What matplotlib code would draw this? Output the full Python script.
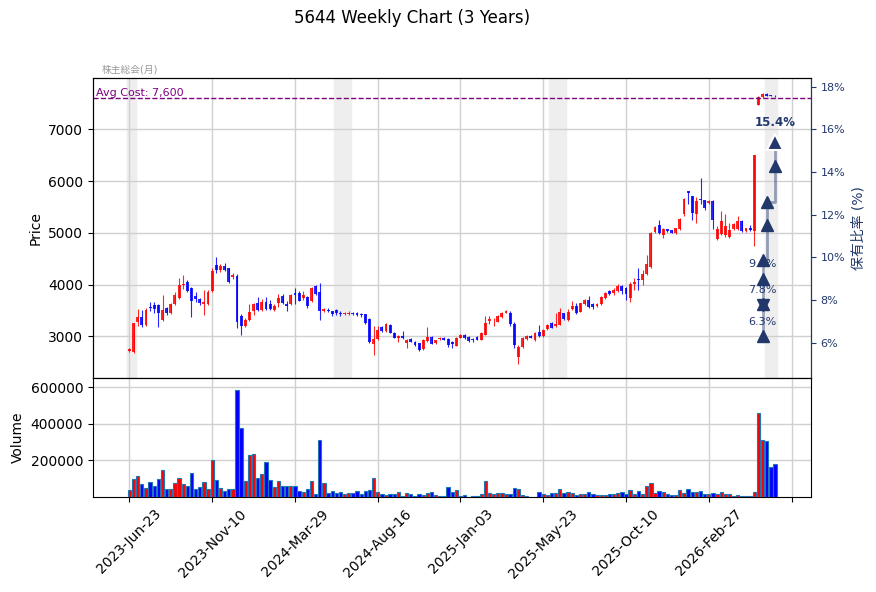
import matplotlib
matplotlib.use('Agg')
import matplotlib.pyplot as plt
import matplotlib.transforms as mtransforms
import numpy as np
import pandas as pd

plt.rcParams['font.family'] = ['DejaVu Sans', 'Noto Sans CJK JP']

# weekly data
dates = pd.date_range('2023-06-23', periods=157, freq='7D')

opens = [2720, 2700, 3270, 3380, 3215, 3575, 3600, 3595, 3320, 3555,
         3450, 3627, 3745, 3985, 4040, 3935, 3770, 3725, 3615, 3615,
         3875, 4380, 4280, 4360, 4310, 4140, 4170, 3385, 3190, 3320,
         3490, 3645, 3503, 3665, 3620, 3503, 3645, 3775, 3626, 3620,
         3840, 3845, 3742, 3760, 3684, 3968, 3858, 3490, 3516, 3484,
         3503, 3452, 3432, 3439, 3452, 3452, 3439, 3426, 3342, 2845,
         2942, 3187, 3110, 3219, 3071, 2974, 3013, 2877, 2948, 2897,
         2865, 2748, 2910, 2987, 2871, 2942, 2974, 2948, 2897, 2819,
         2974, 3026, 2987, 2955, 2994, 2935, 3032, 3297, 3310, 3284,
         3374, 3458, 3458, 3245, 2596, 2788, 2942, 3006, 2930, 3090,
         3006, 3141, 3250, 3199, 3224, 3442, 3314, 3526, 3590, 3474,
         3619, 3697, 3632, 3580, 3619, 3748, 3871, 3845, 3877, 3968,
         3935, 3748, 4006, 4110, 4097, 4200, 4330, 5013, 5142, 4949,
         5065, 5045, 4987, 5065, 5355, 5800, 5710, 5355, 5660, 5626,
         5568, 5613, 4884, 4968, 4949, 4923, 5065, 5065, 5226, 5032,
         5097, 5032, 7470, 7620, 7684, 7664, 7652]
highs = [2775, 3260, 3530, 3500, 3540, 3660, 3670, 3615, 3790, 3575,
         3650, 3855, 4130, 4180, 4085, 3955, 3855, 3745, 3890, 3900,
         4315, 4540, 4390, 4410, 4320, 4225, 4195, 3430, 3345, 3620,
         3645, 3750, 3730, 3760, 3710, 3620, 3825, 3825, 3680, 3825,
         3940, 3870, 3880, 3775, 3955, 3987, 4039, 3555, 3545, 3497,
         3530, 3485, 3465, 3490, 3465, 3465, 3452, 3440, 3360, 3200,
         3194, 3194, 3252, 3232, 3090, 3026, 3110, 2942, 2961, 2910,
         2877, 2942, 3187, 3006, 2935, 2994, 2987, 2961, 2910, 2987,
         3039, 3039, 3000, 2968, 3006, 3077, 3393, 3387, 3355, 3413,
         3478, 3503, 3484, 3270, 2833, 2994, 3019, 3019, 3084, 3218,
         3141, 3245, 3280, 3455, 3540, 3455, 3520, 3680, 3635, 3650,
         3730, 3775, 3645, 3645, 3775, 3858, 3890, 3935, 4020, 3987,
         3955, 4050, 4130, 4310, 4280, 4570, 5010, 5130, 5245, 5090,
         5080, 5060, 5100, 5290, 5680, 5810, 5720, 5700, 6065, 5640,
         5630, 5625, 5140, 5420, 5355, 5180, 5180, 5330, 5240, 5100,
         5155, 6500, 7640, 7710, 7710, 7672, 7660]
lows = [2700, 2680, 3200, 3180, 3200, 3480, 3450, 3175, 3300, 3410,
        3430, 3610, 3725, 3920, 3855, 3380, 3660, 3610, 3410, 3595,
        3855, 4215, 4250, 4260, 4035, 4110, 3165, 3020, 3170, 3300,
        3420, 3490, 3490, 3515, 3515, 3485, 3570, 3620, 3485, 3600,
        3620, 3678, 3710, 3550, 3670, 3806, 3323, 3470, 3465, 3400,
        3410, 3395, 3420, 3415, 3420, 3400, 3375, 3232, 2877, 2632,
        2923, 3090, 3090, 3058, 2961, 2884, 2948, 2768, 2884, 2819,
        2716, 2736, 2897, 2845, 2845, 2923, 2923, 2800, 2780, 2806,
        2961, 2942, 2897, 2897, 2923, 2923, 3019, 3245, 3194, 3271,
        3361, 3445, 3206, 2770, 2462, 2770, 2930, 2961, 2917, 2994,
        2994, 3129, 3155, 3186, 3211, 3314, 3300, 3510, 3430, 3460,
        3600, 3550, 3535, 3568, 3600, 3730, 3806, 3800, 3858, 3826,
        3697, 3665, 3890, 3890, 4000, 4180, 4310, 5000, 4970, 4890,
        5015, 4990, 4975, 5050, 5330, 5550, 5250, 5180, 5550, 5440,
        5550, 5065, 4870, 4950, 4920, 4900, 5050, 5050, 5020, 5020,
        5030, 4740, 7460, 7600, 7640, 7635, 7630]
closes = [2755, 3255, 3380, 3215, 3515, 3550, 3530, 3445, 3515, 3450,
          3627, 3790, 4000, 4020, 3875, 3680, 3730, 3640, 3655, 3855,
          4260, 4280, 4360, 4290, 4050, 4180, 3267, 3200, 3320, 3475,
          3630, 3503, 3665, 3535, 3535, 3580, 3742, 3645, 3587, 3795,
          3795, 3684, 3794, 3587, 3942, 3813, 3490, 3535, 3490, 3426,
          3458, 3432, 3445, 3458, 3432, 3413, 3406, 3258, 2890, 2942,
          3116, 3110, 3239, 3071, 2974, 3013, 2961, 2929, 2897, 2832,
          2736, 2929, 2987, 2858, 2923, 2961, 2935, 2832, 2845, 2974,
          3026, 2961, 2916, 2935, 2935, 3065, 3258, 3335, 3323, 3400,
          3452, 3484, 3232, 2830, 2788, 2974, 3006, 2974, 3070, 3006,
          3122, 3218, 3167, 3237, 3462, 3333, 3474, 3590, 3455, 3635,
          3697, 3568, 3568, 3630, 3761, 3845, 3826, 3890, 3974, 3871,
          3813, 4019, 4052, 4090, 4194, 4400, 4990, 5116, 4987, 5065,
          5026, 5000, 5084, 5258, 5645, 5770, 5387, 5613, 5640, 5471,
          5613, 5245, 5065, 5226, 5129, 5045, 5161, 5226, 5032, 5084,
          5052, 6497, 7630, 7684, 7652, 7645, 7640]
volumes = [38000, 97000, 117000, 68500, 46800, 79300, 57700, 101000, 146000, 41400,
           41400, 73900, 103000, 68500, 57700, 133000, 41400, 52300, 79300, 41400,
           200000, 91900, 48700, 30600, 41400, 41400, 587000, 376600, 84700, 230600,
           236000, 106000, 128000, 193000, 92000, 52000, 84700, 61000, 61000, 61000,
           57700, 34000, 28800, 41400, 84700, 14400, 312000, 73900, 23400, 30600,
           19800, 25200, 14400, 19800, 19800, 34000, 14400, 30600, 37800, 106000,
           25200, 14400, 9000, 14400, 14400, 25200, 3600, 19800, 14400, 3600,
           14400, 9000, 19800, 25200, 9000, 3600, 3600, 52000, 28800, 36000,
           3600, 9000, 1000, 3600, 3600, 14400, 90000, 19800, 14400, 19800,
           19800, 14400, 14400, 46800, 41400, 9000, 3600, 1800, 1000, 25200,
           14400, 9000, 19800, 19800, 41400, 19800, 25200, 19800, 9000, 14400,
           14400, 25200, 14400, 9000, 9000, 9000, 14400, 14400, 19800, 25200,
           14400, 36000, 14400, 30600, 14400, 57700, 73900, 19800, 30600, 25200,
           14400, 9000, 9000, 36000, 19800, 41400, 25200, 25200, 30600, 14400,
           14400, 19800, 14400, 25200, 14400, 14400, 3600, 9000, 3600, 3600,
           3600, 25200, 457700, 311700, 306000, 165800, 182000]

# holding ratio reports (week index, %)
hold_idx = [153, 153, 153, 153, 153, 154, 154, 156, 156]
hold_pct = [6.3, 7.8, 7.75, 9.0, 9.9, 11.5, 12.6, 14.3, 15.4]
hold_mark = ['^', '^', 'v', '^', '^', '^', '^', '^', '^']
hold_text = {0: '6.3%', 1: '7.8%', 3: '9.0%'}
avg_cost = 7600

navy = '#22386b'
o = np.array(opens); h = np.array(highs); l = np.array(lows); c = np.array(closes)
x = np.arange(len(dates))
cols = np.where(c >= o, 'red', 'blue')

fig = plt.figure(figsize=(8.76, 5.92), dpi=100)
ax = fig.add_axes([93/876, 1-378/592, 718/876, 300/592])
axv = fig.add_axes([93/876, 1-497/592, 718/876, 119/592], sharex=ax)

# June shading (shareholder meeting)
june = [i for i, d in enumerate(dates) if d.month == 6]
years = sorted(set(dates[i].year for i in june))
for k, yr in enumerate(years):
    idx = [i for i in june if dates[i].year == yr]
    ax.axvspan(idx[0]-0.5, idx[-1]+0.5, color='#eeeeee', zorder=0)
    if k == 0:
        ax.text(idx[0], 1.01, '株主総会(月)', transform=mtransforms.blended_transform_factory(ax.transData, ax.transAxes),
                ha='center', va='bottom', fontsize=7, color='#999999')

# candles
ax.vlines(x, l, h, colors=cols, lw=0.8, alpha=0.85, zorder=3)
ax.bar(x, np.maximum(np.abs(c-o), 4), bottom=np.minimum(o, c), width=0.7, color=cols, alpha=0.85, zorder=3)
ax.axhline(avg_cost, color='purple', ls='--', lw=1, zorder=4)
ax.text(0.004, avg_cost, 'Avg Cost: 7,600', transform=mtransforms.blended_transform_factory(ax.transAxes, ax.transData),
        color='purple', fontsize=8, va='bottom', ha='left')
ax.set_ylim(2194, 7991)
ax.set_ylabel('Price')
ax.grid(True, color='#d0d0d0', lw=1)
ax.set_axisbelow(True)
ax.tick_params(labelbottom=False)

# holding ratio on twin axis
ax2 = ax.twinx()
ax2.plot(hold_idx, hold_pct, drawstyle='steps-post', color=navy, alpha=0.45, lw=2, zorder=2)
for i in range(len(hold_pct)):
    if i == len(hold_pct) - 1:
        ax2.plot(hold_idx[i], hold_pct[i], marker=hold_mark[i], ms=11, color=navy, mec='white', mew=1.5, ls='')
        ax2.annotate('15.4%', (hold_idx[i], hold_pct[i]), xytext=(0, 14), textcoords='offset points',
                     ha='center', va='center', fontsize=8.5, fontweight='bold', color=navy)
    else:
        ax2.plot(hold_idx[i], hold_pct[i], marker=hold_mark[i], ms=8, color=navy, ls='')
    if i in hold_text:
        ax2.annotate(hold_text[i], (hold_idx[i], hold_pct[i]), xytext=(0, 10.5), textcoords='offset points',
                     ha='center', va='center', fontsize=8, color=navy)
ax2.set_ylim(4.35, 18.41)
ax2.set_yticks([6, 8, 10, 12, 14, 16, 18])
ax2.set_yticklabels(['%d%%' % v for v in [6, 8, 10, 12, 14, 16, 18]])
ax2.tick_params(axis='y', colors=navy, labelsize=8)
ax2.spines['right'].set_color(navy)
ax2.set_ylabel('保有比率 (%)', color=navy, fontsize=10)

# volume
axv.bar(x, volumes, width=0.8, color=cols, edgecolor='#1f77b4', lw=0.8, zorder=3)
axv.set_ylim(0, 650000)
axv.set_yticks([200000, 400000, 600000])
axv.ticklabel_format(style='plain', axis='y')
axv.set_ylabel('Volume')
axv.grid(True, color='#d0d0d0', lw=1)
axv.set_axisbelow(True)

ticks = list(range(0, 161, 20))
axv.set_xticks(ticks)
axv.set_xticklabels([dates[t].strftime('%Y-%b-%d') if t < len(dates) else '' for t in ticks], rotation=45)
axv.set_xlim(-8.8, 164.7)

fig.text(412/876, 1-18/592, '5644 Weekly Chart (3 Years)', ha='center', va='center', fontsize=12)

fig.savefig('out.png', dpi=100)
